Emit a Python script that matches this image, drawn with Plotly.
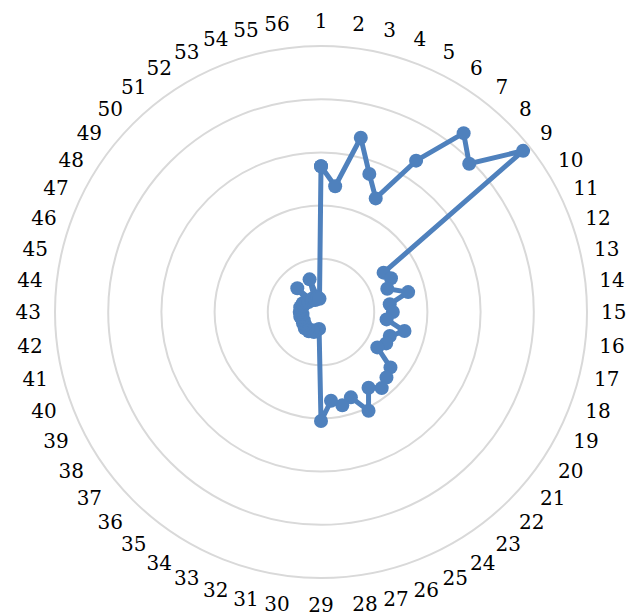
import plotly.graph_objects as go

categories = [str(i) for i in range(1, 57)]
values = [
    2.74, 2.38, 3.36, 2.75, 2.37, 3.36, 4.30, 3.94, 4.86, 1.39,
    1.46, 1.32, 1.68, 1.30, 1.35, 1.24, 1.61, 1.37, 1.36, 1.25,
    1.67, 1.74, 1.83, 1.68, 2.06, 1.70, 1.80, 1.68, 2.05, 0.32,
    0.35, 0.40, 0.38, 0.43, 0.40, 0.43, 0.38, 0.40, 0.36, 0.38,
    0.40, 0.35, 0.40, 0.38, 0.40, 0.35, 0.38, 0.33, 0.30, 0.63,
    0.28, 0.30, 0.25, 0.65, 0.28, 0.25,
]

line_color = "#4F81BD"
grid_color = "#D9D9D9"
serif = "DejaVu Serif"

fig = go.Figure()
fig.add_trace(go.Scatterpolar(
    r=values + values[:1],
    theta=categories + categories[:1],
    mode="lines+markers",
    line=dict(color=line_color, width=5),
    marker=dict(color=line_color, size=14),
    showlegend=False,
))

fig.update_layout(
    width=637, height=615,
    margin=dict(l=47, r=58, t=38, b=45),
    paper_bgcolor="white",
    plot_bgcolor="white",
    font=dict(family=serif, size=20, color="black"),
    polar=dict(
        bgcolor="white",
        angularaxis=dict(
            type="category",
            categoryarray=categories,
            categoryorder="array",
            rotation=90,
            direction="clockwise",
            showgrid=False,
            showline=True,
            linecolor=grid_color,
            linewidth=2,
            ticks="outside",
            ticklen=9,
            tickcolor="rgba(0,0,0,0)",
            tickfont=dict(family=serif, size=20, color="black"),
        ),
        radialaxis=dict(
            range=[0, 5],
            dtick=1,
            showticklabels=False,
            showline=False,
            ticks="",
            gridcolor=grid_color,
            gridwidth=2,
        ),
    ),
)

fig.write_html("out.html")
